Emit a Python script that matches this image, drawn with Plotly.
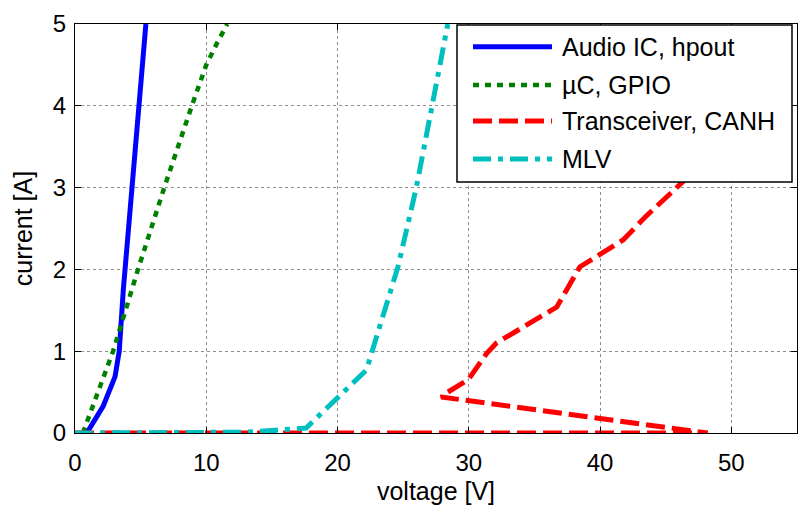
import plotly.graph_objects as go

# ---- data ----
names = ["Audio IC, hpout", "\u00b5C, GPIO", "Transceiver, CANH", "MLV"]

audio_v = [0.9, 2.15, 3.05, 3.37, 3.68, 5.4]
audio_i = [0.0, 0.33, 0.69, 1.0, 1.75, 5.0]

gpio_v = [0.6, 2.9, 4.8, 6.8, 8.9, 10.0, 10.8, 11.6]
gpio_i = [0.0, 1.0, 2.0, 3.0, 4.0, 4.5, 4.76, 5.0]

canh_v = [0.0, 48.2, 27.9, 28.4, 29.95, 31.35, 32.1, 36.7, 38.45, 41.75, 43.5, 46.3, 47.5]
canh_i = [0.0, 0.0, 0.44, 0.5, 0.65, 0.97, 1.1, 1.54, 2.03, 2.36, 2.65, 3.07, 3.3]

mlv_v = [0.0, 13.0, 15.0, 17.6, 22.2, 23.75, 24.6, 26.0, 27.4, 28.4]
mlv_i = [0.0, 0.01, 0.03, 0.06, 0.77, 1.59, 2.03, 3.0, 4.2, 5.0]

x_ticks = [0, 10, 20, 30, 40, 50]
y_ticks = [0, 1, 2, 3, 4, 5]

# ---- styles ----
colors = ["#0000FF", "#008000", "#FF0000", "#00BFBF"]
dashes = ["solid", "6px,6px", "19px,7px", "18px,7px,5px,7px"]
widths = [5, 4.5, 5, 5]

FONT = "Liberation Sans, Arial, sans-serif"
W, H = 798, 505
L, R, T, B = 75, 1, 24, 72
PW, PH = W - L - R, H - T - B

fig = go.Figure()
series = [(audio_v, audio_i), (gpio_v, gpio_i), (canh_v, canh_i), (mlv_v, mlv_i)]
for (xv, yv), n, c, d, w in zip(series, names, colors, dashes, widths):
    fig.add_trace(go.Scatter(x=xv, y=yv, mode="lines", name=n,
                             line=dict(color=c, dash=d, width=w),
                             showlegend=False))

# ---- custom legend (MATLAB-style long samples) ----
def px2paper(X, Y):
    return (X - L) / PW, (H - B - Y) / PH

shapes = []
annotations = []
x0, y0 = px2paper(457, 25)
x1, y1 = px2paper(792, 182)
shapes.append(dict(type="rect", xref="paper", yref="paper", x0=x0, y0=y1, x1=x1, y1=y0,
                   line=dict(color="black", width=1.5), fillcolor="white", layer="above"))
rows_y = [46.7, 85, 121, 159]
for n, c, d, w, ry in zip(names, colors, dashes, widths, rows_y):
    sx0, sy = px2paper(473, ry)
    sx1, _ = px2paper(552, ry)
    shapes.append(dict(type="line", xref="paper", yref="paper", x0=sx0, y0=sy, x1=sx1, y1=sy,
                       line=dict(color=c, dash=d, width=w), layer="above"))
    tx, ty = px2paper(560, ry)
    annotations.append(dict(xref="paper", yref="paper", x=tx, y=ty, text=n, showarrow=False,
                            xanchor="left", yanchor="middle",
                            font=dict(family=FONT, size=25, color="black")))

axis_common = dict(
    showline=True, linecolor="black", linewidth=1, mirror="ticks",
    ticks="inside", ticklen=6, tickcolor="black", tickwidth=1,
    showgrid=True, gridcolor="rgba(0,0,0,0.45)", gridwidth=1, griddash="dot",
    zeroline=False, tickfont=dict(family=FONT, size=24, color="black"),
)

fig.update_layout(
    width=W, height=H,
    margin=dict(l=L, r=R, t=T, b=B, autoexpand=False),
    paper_bgcolor="white", plot_bgcolor="white",
    showlegend=False,
    xaxis=dict(range=[0, 55], tickvals=x_ticks, ticklabelstandoff=8,
               title=dict(text="voltage [V]", font=dict(family=FONT, size=25, color="black"),
                          standoff=10),
               **axis_common),
    yaxis=dict(range=[0, 5], tickvals=y_ticks, ticklabelstandoff=3,
               title=dict(text="current [A]", font=dict(family=FONT, size=25, color="black"),
                          standoff=13),
               **axis_common),
    shapes=shapes,
    annotations=annotations,
)

fig.write_html("out.html",
               config={"displayModeBar": False},
               post_script="document.body.style.margin='0';document.body.style.overflow='hidden';")
